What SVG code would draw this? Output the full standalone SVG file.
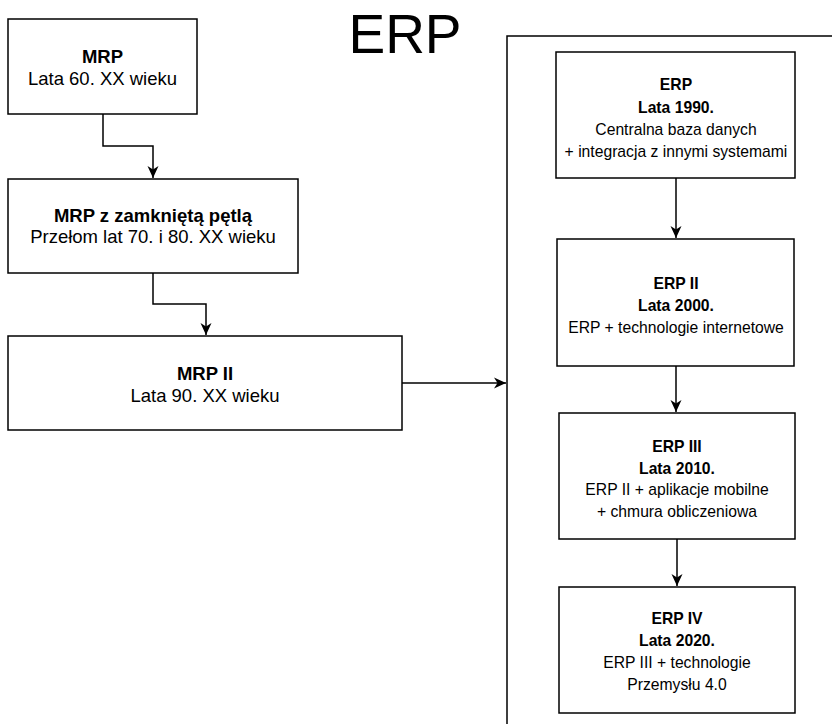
<svg xmlns="http://www.w3.org/2000/svg" width="832" height="724" viewBox="0 0 832 724">
<style>
.box{fill:#fff;stroke:#000;stroke-width:1.5}
.con{fill:none;stroke:#000;stroke-width:1.5}
text{font-family:"Liberation Sans",Arial,Helvetica,sans-serif;fill:#000;text-anchor:middle}
.l{font-size:18.5px}
.r{font-size:15.7px}
.b{font-weight:bold}
.title{font-size:55px}
</style>
<defs>
<marker id="arr" markerWidth="14" markerHeight="12" refX="12" refY="6" orient="auto" markerUnits="userSpaceOnUse">
<path d="M0,0.5 L12,6 L0,11.5 L3.5,6 Z" fill="#000"/>
</marker>
</defs>
<rect x="0" y="0" width="832" height="724" fill="#fff"/>
<text class="title" x="405" y="53">ERP</text>
<g id="container">
<rect class="box" x="507" y="36" width="400" height="720"/>
</g>
<g id="connectors">
<path class="con" d="M103,114 V146 H153 V178" marker-end="url(#arr)"/>
<path class="con" d="M153,273 V304 H206 V335" marker-end="url(#arr)"/>
<path class="con" d="M402,383 H506" marker-end="url(#arr)"/>
<path class="con" d="M676,178 V238" marker-end="url(#arr)"/>
<path class="con" d="M676,366 V412" marker-end="url(#arr)"/>
<path class="con" d="M677,539 V586" marker-end="url(#arr)"/>
</g>
<g id="mrp">
<rect class="box" x="8" y="19" width="189" height="95"/>
<text class="l b" x="102.5" y="63">MRP</text>
<text class="l" x="102.5" y="84.5">Lata 60. XX wieku</text>
</g>
<g id="mrp-closed">
<rect class="box" x="8" y="179" width="290" height="94"/>
<text class="l b" x="153" y="221.5">MRP z zamkniętą pętlą</text>
<text class="l" x="153" y="243">Przełom lat 70. i 80. XX wieku</text>
</g>
<g id="mrp2">
<rect class="box" x="8" y="336" width="394" height="94"/>
<text class="l b" x="205" y="380">MRP II</text>
<text class="l" x="205" y="401.5">Lata 90. XX wieku</text>
</g>
<g id="erp">
<rect class="box" x="556" y="52" width="239" height="126"/>
<text class="r b" x="676" y="90">ERP</text>
<text class="r b" x="676" y="112.5">Lata 1990.</text>
<text class="r" x="676" y="134.5">Centralna baza danych</text>
<text class="r" x="676" y="156.5">+ integracja z innymi systemami</text>
</g>
<g id="erp2">
<rect class="box" x="557" y="239" width="237" height="127"/>
<text class="r b" x="676" y="288.5">ERP II</text>
<text class="r b" x="676" y="310.5">Lata 2000.</text>
<text class="r" x="676" y="332.5">ERP + technologie internetowe</text>
</g>
<g id="erp3">
<rect class="box" x="559" y="413" width="236" height="126"/>
<text class="r b" x="677" y="451.5">ERP III</text>
<text class="r b" x="677" y="473.5">Lata 2010.</text>
<text class="r" x="677" y="495">ERP II + aplikacje mobilne</text>
<text class="r" x="677" y="516.5">+ chmura obliczeniowa</text>
</g>
<g id="erp4">
<rect class="box" x="559" y="587" width="236" height="126"/>
<text class="r b" x="677" y="623.5">ERP IV</text>
<text class="r b" x="677" y="646">Lata 2020.</text>
<text class="r" x="677" y="668">ERP III + technologie</text>
<text class="r" x="677" y="689.5">Przemysłu 4.0</text>
</g>
</svg>
